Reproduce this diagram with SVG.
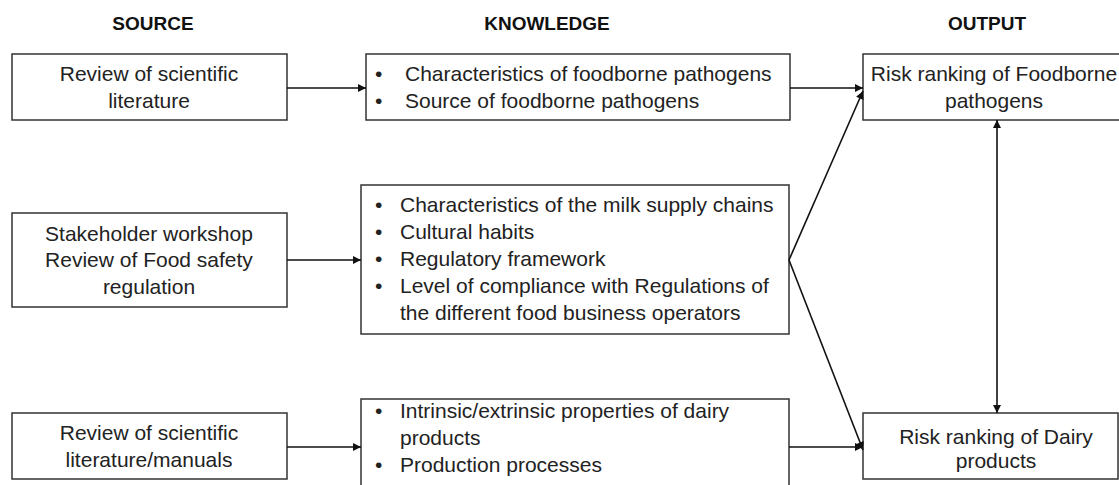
<svg xmlns="http://www.w3.org/2000/svg" width="1119" height="485" viewBox="0 0 1119 485">
<style>
.box{fill:#fff;stroke:#333;stroke-width:1.5}
.t{font-family:"Liberation Sans",Arial,sans-serif;font-size:21px;fill:#222}
.c{text-anchor:middle}
.h{font-family:"Liberation Sans",Arial,sans-serif;font-size:19px;font-weight:bold;fill:#111;text-anchor:middle}
.ln{stroke:#111;stroke-width:1.6;fill:none}
</style>
<defs>
<marker id="ah" viewBox="0 0 10 10" refX="10" refY="5" markerWidth="9" markerHeight="8" markerUnits="userSpaceOnUse" orient="auto-start-reverse">
<path d="M0,0 L10,5 L0,10 z" fill="#111"/>
</marker>
</defs>
<rect width="1119" height="485" fill="#fff"/>
<g id="headers">
<text class="h" x="153" y="30">SOURCE</text>
<text class="h" x="547" y="30">KNOWLEDGE</text>
<text class="h" x="987" y="30">OUTPUT</text>
</g>
<g id="src1">
<rect class="box" x="12" y="54" width="275" height="66"/>
<text class="t c" x="149" y="81">Review of scientific</text>
<text class="t c" x="149" y="108">literature</text>
</g>
<g id="src2">
<rect class="box" x="12" y="213" width="275" height="94"/>
<text class="t c" x="149" y="241">Stakeholder workshop</text>
<text class="t c" x="149" y="267">Review of Food safety</text>
<text class="t c" x="149" y="294">regulation</text>
</g>
<g id="src3">
<rect class="box" x="12" y="413" width="275" height="66"/>
<text class="t c" x="149" y="440">Review of scientific</text>
<text class="t c" x="149" y="467">literature/manuals</text>
</g>
<g id="know1">
<rect class="box" x="366" y="54" width="424" height="66"/>
<text class="t" x="375" y="81">•</text>
<text class="t" x="405" y="81">Characteristics of foodborne pathogens</text>
<text class="t" x="375" y="108">•</text>
<text class="t" x="405" y="108">Source of foodborne pathogens</text>
</g>
<g id="know2">
<rect class="box" x="361" y="185" width="428" height="149"/>
<text class="t" x="375" y="212">•</text>
<text class="t" x="400" y="212">Characteristics of the milk supply chains</text>
<text class="t" x="375" y="239">•</text>
<text class="t" x="400" y="239">Cultural habits</text>
<text class="t" x="375" y="266">•</text>
<text class="t" x="400" y="266">Regulatory framework</text>
<text class="t" x="375" y="293">•</text>
<text class="t" x="400" y="293">Level of compliance with Regulations of</text>
<text class="t" x="400" y="320">the different food business operators</text>
</g>
<g id="know3">
<rect class="box" x="361" y="399" width="428" height="100"/>
<text class="t" x="375" y="418">•</text>
<text class="t" x="400" y="418">Intrinsic/extrinsic properties of dairy</text>
<text class="t" x="400" y="445">products</text>
<text class="t" x="375" y="472">•</text>
<text class="t" x="400" y="472">Production processes</text>
</g>
<g id="out1">
<rect class="box" x="863" y="54" width="270" height="66"/>
<text class="t c" x="994" y="81">Risk ranking of Foodborne</text>
<text class="t c" x="994" y="108">pathogens</text>
</g>
<g id="out2">
<rect class="box" x="863" y="413" width="255" height="66"/>
<text class="t c" x="996" y="444">Risk ranking of Dairy</text>
<text class="t c" x="996" y="468">products</text>
</g>
<g id="connectors">
<line class="ln" x1="287" y1="88" x2="366" y2="88" marker-end="url(#ah)"/>
<line class="ln" x1="790" y1="88" x2="863" y2="88" marker-end="url(#ah)"/>
<line class="ln" x1="287" y1="260" x2="361" y2="260" marker-end="url(#ah)"/>
<line class="ln" x1="789" y1="260" x2="863" y2="91" marker-end="url(#ah)"/>
<line class="ln" x1="789" y1="260" x2="863" y2="450" marker-end="url(#ah)"/>
<line class="ln" x1="287" y1="447" x2="361" y2="447" marker-end="url(#ah)"/>
<line class="ln" x1="789" y1="447" x2="863" y2="447" marker-end="url(#ah)"/>
<line class="ln" x1="997" y1="120" x2="997" y2="413" marker-start="url(#ah)" marker-end="url(#ah)"/>
</g>
</svg>
